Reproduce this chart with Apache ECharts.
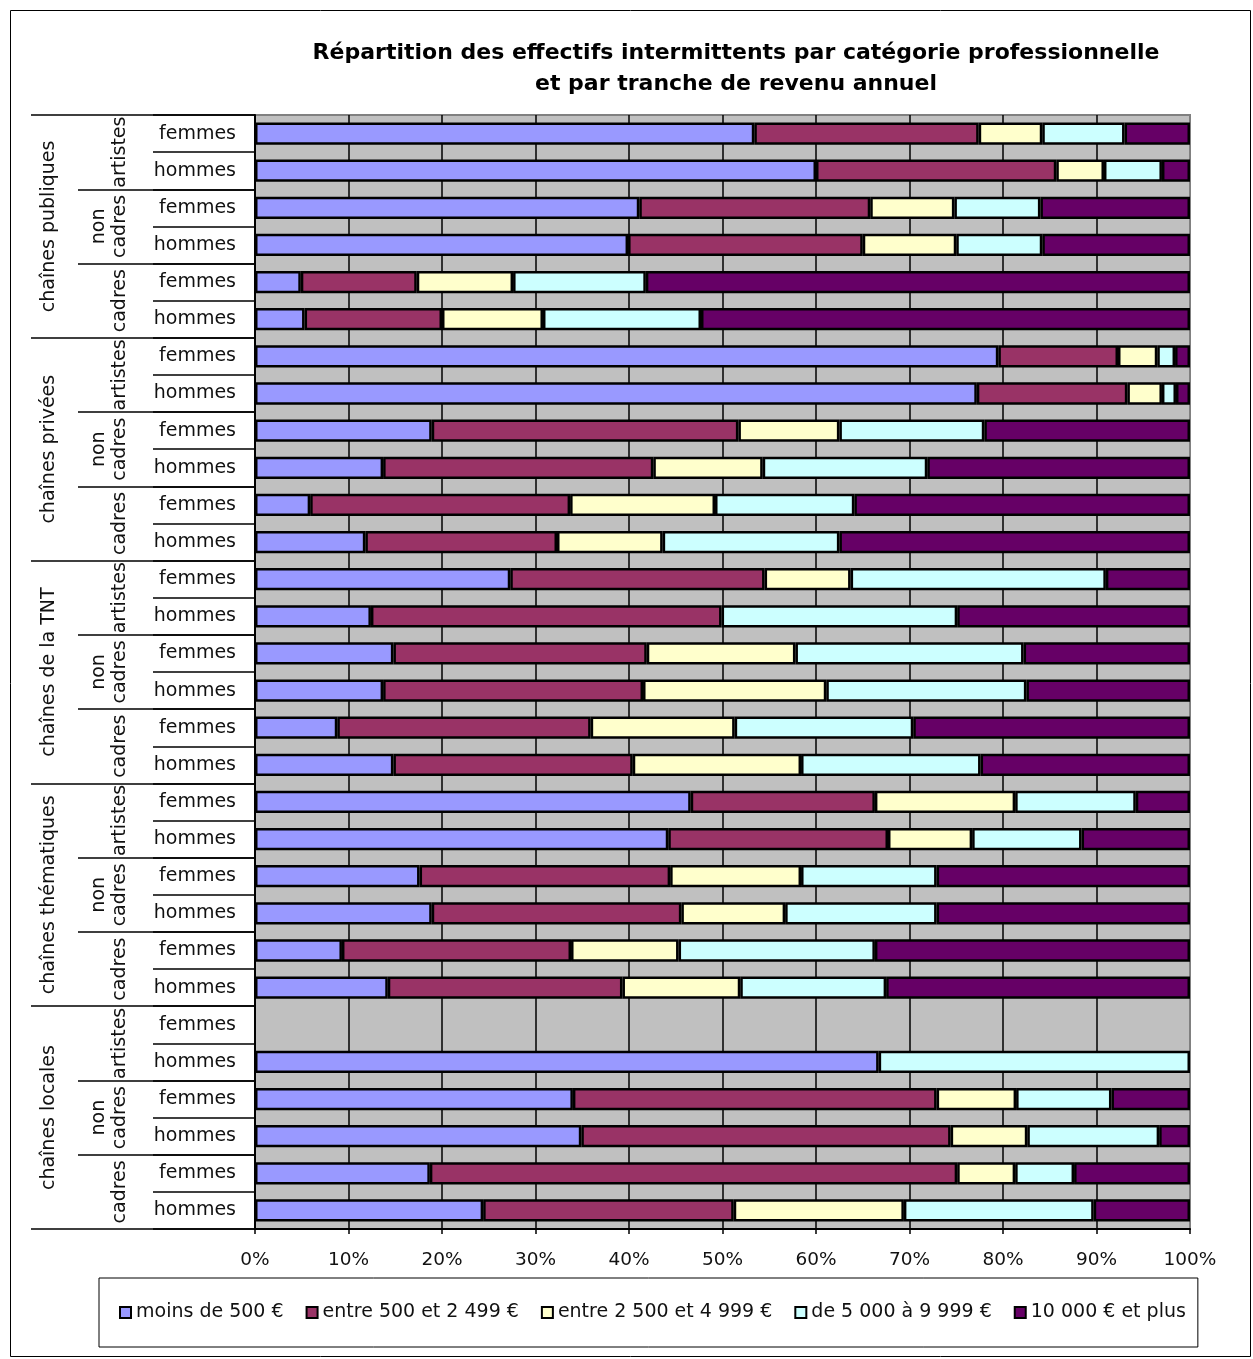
<!DOCTYPE html>
<html>
<head>
<meta charset="utf-8">
<script src="https://cdn.jsdelivr.net/npm/echarts@6/dist/echarts.min.js"></script>
<style>
html,body{margin:0;padding:0;background:#fff;}
#c{width:1253px;height:1359px;}
</style>
</head>
<body>
<div id="c"></div>
<script>
// ---- data (rows top to bottom) ----
var groups = ['chaînes publiques', 'chaînes privées', 'chaînes de la TNT', 'chaînes thématiques', 'chaînes locales'];
var categories = ['artistes', 'non\ncadres', 'cadres'];
var sexes = ['femmes', 'hommes'];
var seriesNames = ['moins de 500 €', 'entre 500 et 2 499 €', 'entre 2 500 et 4 999 €', 'de 5 000 à 9 999 €', '10 000 € et plus'];
var tickLabels = ['0%','10%','20%','30%','40%','50%','60%','70%','80%','90%','100%'];

var moins500 = [53.4,60.0,41.1,39.9,4.9,5.3, 79.5,77.2,18.9,13.7,5.9,11.8, 27.3,12.4,14.8,13.7,8.8,14.8, 46.6,44.2,17.6,18.9,9.3,14.2, 0,66.7,34.0,34.9,18.7,24.4];
var de500 = [24.0,25.7,24.7,25.1,12.4,14.7, 12.8,16.1,32.8,28.9,27.8,20.5, 27.2,37.5,27.1,27.8,27.1,25.6, 19.7,23.5,26.8,26.7,24.5,25.1, 0,0,38.9,39.5,56.4,26.8];
var de2500 = [6.8,5.1,9.0,10.0,10.3,10.8, 4.2,3.7,10.8,11.7,15.5,11.3, 9.2,0,15.9,19.6,15.4,18.0, 15.0,9.0,14.0,11.1,11.5,12.6, 0,0,8.5,8.2,6.2,18.2];
var de5000 = [8.8,6.2,9.2,9.2,14.2,16.9, 1.9,1.5,15.5,17.6,14.9,18.9, 27.3,25.2,24.4,21.4,19.1,19.2, 12.9,11.7,14.5,16.2,21.0,15.6, 0,33.3,10.2,14.1,6.3,20.3];
var de10000 = [7.0,3.0,16.0,15.8,58.2,52.3, 1.6,1.5,22.0,28.1,35.9,37.5, 9.0,24.9,17.8,17.5,29.6,22.4, 5.8,11.6,27.1,27.1,33.7,32.5, 0,0,8.4,3.3,12.4,10.3];

var colors = ['#9999FF', '#993366', '#FFFFCC', '#CCFFFF', '#660066'];

// build hierarchical category lists
var rowLabels = [], catLabels = [];
groups.forEach(function (g) {
  categories.forEach(function (c) {
    catLabels.push(c);
    sexes.forEach(function (s) { rowLabels.push(s); });
  });
});

var FONT = 'DejaVu Sans';
var chart = echarts.init(document.getElementById('c'));
var allValues = [moins500, de500, de2500, de5000, de10000];

var option = {
  animation: false,
  backgroundColor: '#fff',
  title: {
    text: 'Répartition des effectifs intermittents par catégorie professionnelle\net par tranche de revenu annuel',
    left: 731,
    top: 33,
    textAlign: 'center',
    textStyle: { fontFamily: FONT, fontSize: 22, fontWeight: 'bold', color: '#000', lineHeight: 31 }
  },
  legend: {
    left: 99,
    top: 1278,
    padding: [25, 12, 25, 20],
    itemWidth: 11,
    itemHeight: 11,
    itemGap: 22,
    borderColor: '#000',
    borderWidth: 1,
    icon: 'rect',
    textStyle: { fontFamily: FONT, fontSize: 19, color: '#111' },
    data: seriesNames
  },
  graphic: [{
    type: 'rect',
    shape: { x: 10.5, y: 10.5, width: 1240, height: 1346 },
    style: { fill: 'none', stroke: '#000', lineWidth: 1 },
    silent: true, z: -1
  }],
  grid: {
    left: 255, right: 63, top: 115, bottom: 130,
    show: true, backgroundColor: '#C0C0C0', borderColor: '#808080', borderWidth: 2,
    outerBoundsMode: 'none'
  },
  xAxis: {
    type: 'value', min: 0, max: 100, interval: 10,
    axisLine: { show: true, lineStyle: { color: '#000', width: 2 } },
    axisTick: { show: true, length: 5, lineStyle: { color: '#000', width: 1.5 } },
    axisLabel: {
      margin: 22, fontFamily: FONT, fontSize: 18.5, color: '#111',
      formatter: function (v) { return tickLabels[Math.round(v / 10)]; }
    },
    splitLine: { show: true, showMinLine: false, showMaxLine: false, lineStyle: { color: '#000', width: 1.5 } }
  },
  yAxis: [
    {
      type: 'category', inverse: true, position: 'left', data: rowLabels,
      axisLine: { show: true, lineStyle: { color: '#000', width: 2 } },
      axisTick: { show: true, length: 102, interval: 0, lineStyle: { color: '#000', width: 1.5 } },
      axisLabel: { interval: 0, margin: 19, fontFamily: FONT, fontSize: 19, color: '#111' },
      z: 5
    },
    {
      type: 'category', inverse: true, position: 'left', data: catLabels,
      axisLine: { show: false },
      axisTick: { show: true, length: 177, interval: 0, lineStyle: { color: '#000', width: 1.5 } },
      axisLabel: { interval: 0, margin: 124, rotate: 90, fontFamily: FONT, fontSize: 19, color: '#111', lineHeight: 21 }
    },
    {
      type: 'category', inverse: true, position: 'left', data: groups,
      axisLine: { show: false },
      axisTick: { show: true, length: 224, interval: 0, lineStyle: { color: '#000', width: 1.5 } },
      axisLabel: { interval: 0, margin: 196, rotate: 90, fontFamily: FONT, fontSize: 19, color: '#111' }
    }
  ],
  series: seriesNames.map(function (name, i) {
    return {
      name: name,
      type: 'bar',
      stack: 'total',
      yAxisIndex: 0,
      barCategoryGap: '40%',
      itemStyle: { color: colors[i], borderColor: '#000', borderWidth: 2.5 },
      // empty segments are not drawn
      data: allValues[i].map(function (v) { return v === 0 ? '-' : v; })
    };
  })
};
chart.setOption(option);
</script>
</body>
</html>
